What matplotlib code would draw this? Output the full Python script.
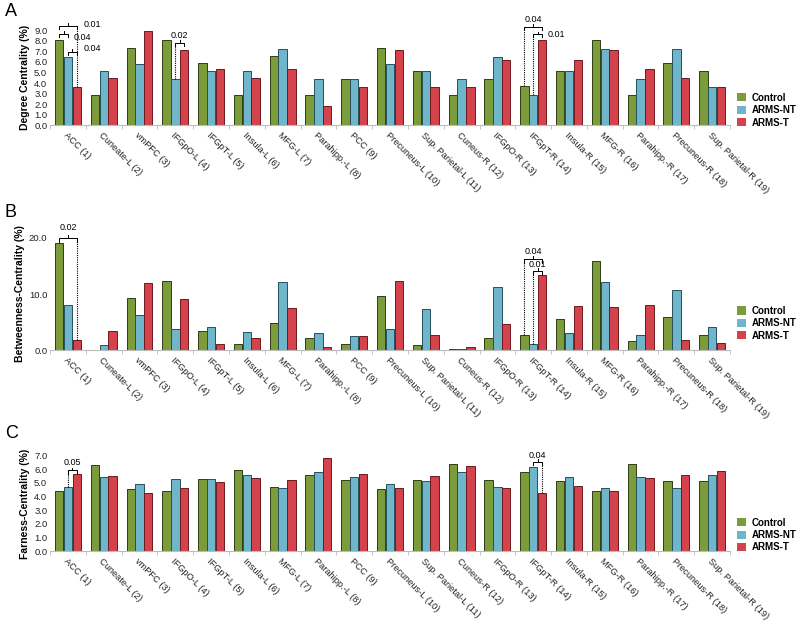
import numpy as np
from matplotlib import pyplot as plt
from matplotlib.ticker import FixedLocator

plt.rcParams["font.family"] = ["Liberation Sans", "DejaVu Sans"]

# 脑区名称
regions = ["ACC (1)", "Cuneate-L (2)", "vmPFC (3)", "IFGpO-L (4)", "IFGpT-L (5)",
           "Insula-L (6)", "MFG-L (7)", "Parahipp.-L (8)", "PCC (9)", "Precuneus-L (10)",
           "Sup. Parietal-L (11)", "Cuneus-R (12)", "IFGpO-R (13)", "IFGpT-R (14)",
           "Insula-R (15)", "MFG-R (16)", "Parahipp.-R (17)", "Precuneus-R (18)",
           "Sup. Parietal-R (19)"]
groups = ["Control", "ARMS-NT", "ARMS-T"]

# A: degree centrality
degree_control = [8.1, 2.9, 7.3, 8.1, 5.9, 2.9, 6.6, 2.9, 4.4, 7.3, 5.1, 2.9, 4.4, 3.7, 5.1, 8.1, 2.9, 5.9, 5.1]
degree_nt = [6.5, 5.1, 5.8, 4.4, 5.1, 5.1, 7.2, 4.4, 4.4, 5.8, 5.1, 4.4, 6.5, 2.9, 5.1, 7.2, 4.4, 7.2, 3.6]
degree_t = [3.6, 4.5, 8.9, 7.1, 5.3, 4.5, 5.3, 1.8, 3.6, 7.1, 3.6, 3.6, 6.2, 8.1, 6.2, 7.1, 5.3, 4.5, 3.6]

# B: betweenness centrality
betw_control = [19.0, 0.1, 9.3, 12.3, 3.4, 1.1, 4.9, 2.2, 1.2, 9.6, 0.9, 0.2, 2.2, 2.7, 5.6, 15.9, 1.6, 5.9, 2.7]
betw_nt = [8.0, 0.9, 6.2, 3.8, 4.1, 3.2, 12.1, 3.1, 2.6, 3.7, 7.3, 0.3, 11.2, 1.2, 3.0, 12.2, 2.8, 10.8, 4.2]
betw_t = [1.9, 3.4, 12.0, 9.2, 1.2, 2.1, 7.6, 0.5, 2.5, 12.4, 2.7, 0.6, 4.6, 13.4, 7.8, 7.7, 8.1, 1.9, 1.3]

# C: farness centrality
far_control = [4.4, 6.3, 4.55, 4.4, 5.27, 5.95, 4.73, 5.6, 5.24, 4.56, 5.24, 6.34, 5.24, 5.78, 5.1, 4.39, 6.34, 5.1, 5.1]
far_nt = [4.7, 5.46, 4.9, 5.27, 5.27, 5.6, 4.59, 5.78, 5.44, 4.9, 5.1, 5.78, 4.73, 6.17, 5.44, 4.59, 5.44, 4.59, 5.6]
far_t = [5.67, 5.51, 4.27, 4.6, 5.07, 5.37, 5.22, 6.83, 5.68, 4.61, 5.51, 6.22, 4.61, 4.29, 4.76, 4.44, 5.37, 5.54, 5.88]

colors = ["#7c9c3b", "#6fb6cb", "#d4434b"]
edges = ["#2f3d14", "#25505c", "#6e1a1e"]
width = 0.235
offsets = [-0.245, 0.0, 0.245]


def draw_panel(ax, series, ymax, yticks, ylabel, legend_y):
    """绘制一个分组柱形图"""
    x = np.arange(len(regions))
    for k in range(3):
        ax.bar(x + offsets[k], series[k], width=width, color=colors[k],
               edgecolor=edges[k], linewidth=0.7, label=groups[k])
    ax.set_xlim(-0.5, len(regions) - 0.5)
    ax.set_ylim(0, ymax)
    ax.set_yticks(yticks)
    ax.set_yticklabels(["%.1f" % v for v in yticks], fontsize=6.8, color="#222222")
    ax.set_xticks(x)
    ax.set_xticklabels(regions, rotation=-45, ha="left", va="top",
                       rotation_mode="anchor", fontsize=6.7, color="#222222")
    ax.tick_params(axis="x", length=0, pad=4)
    ax.tick_params(axis="y", length=0, pad=2)
    ax.xaxis.set_minor_locator(FixedLocator(np.arange(-0.5, len(regions), 1.0)))
    ax.tick_params(axis="x", which="minor", length=3, color="#bbbbbb", width=0.6)
    for s in ["top", "right", "left"]:
        ax.spines[s].set_visible(False)
    ax.spines["bottom"].set_color("#bbbbbb")
    ax.spines["bottom"].set_linewidth(0.8)
    ax.set_ylabel(ylabel, fontsize=7.5, fontweight="bold", labelpad=3)
    leg = ax.legend(loc="center left", bbox_to_anchor=(1.0, legend_y), frameon=False,
                    prop={"size": 7, "weight": "bold"}, handlelength=0.9,
                    handleheight=0.9, handletextpad=0.6, labelspacing=0.25,
                    borderaxespad=0.3)
    for h in leg.legend_handles:
        h.set_linewidth(0)


def bracket(ax, x1, x2, y, tick, text=None, tx=None, ty=None, ha="center"):
    """显著性括号"""
    kw = dict(color="black", lw=0.7, clip_on=False)
    ax.plot([x1, x1, x2, x2], [y - tick, y, y, y - tick], **kw)
    xm = (x1 + x2) / 2
    ax.plot([xm, xm], [y, y + tick * 0.8], **kw)
    if text:
        ax.text(tx, ty, text, fontsize=6.5, ha=ha, va="center", clip_on=False)


def dotted(ax, x, y0, y1):
    ax.plot([x, x], [y0, y1], color="black", lw=0.8, ls=(0, (1, 1)), clip_on=False)


fig = plt.figure(figsize=(7.97, 6.23), dpi=100)

axA = fig.add_axes([0.0628, 0.7989, 0.8532, 0.1525])
axB = fig.add_axes([0.0628, 0.4377, 0.8532, 0.1807])
axC = fig.add_axes([0.0628, 0.1150, 0.8532, 0.1540])

draw_panel(axA, [degree_control, degree_nt, degree_t], 9.0, np.arange(0, 9.5, 1.0),
           "Degree Centrality (%)", 0.16)
draw_panel(axB, [betw_control, betw_nt, betw_t], 20.0, [0, 10, 20],
           "Betweenness-Centrality (%)", 0.24)
draw_panel(axC, [far_control, far_nt, far_t], 7.0, np.arange(0, 7.5, 1.0),
           "Farness-Centrality (%)", 0.17)

g, b, r = offsets
# A 的显著性标注
dotted(axA, r, degree_t[0], 9.4)
bracket(axA, g, r, 9.42, 0.3, "0.01", 0.45, 9.5, ha="left")
bracket(axA, g, b, 8.65, 0.3, "0.04", 0.17, 8.35, ha="left")
bracket(axA, b, r, 6.95, 0.3, "0.04", 0.45, 7.3, ha="left")
dotted(axA, 3 + b, degree_nt[3], 7.83)
bracket(axA, 3 + b, 3 + r, 7.83, 0.3, "0.02", 3.12, 8.5)
dotted(axA, 13 + g, degree_control[13], 9.35)
bracket(axA, 13 + g, 13 + r, 9.35, 0.3, "0.04", 13.0, 10.05)
dotted(axA, 13 + b, degree_nt[13], 8.63)
bracket(axA, 13 + b, 13 + r, 8.63, 0.3, "0.01", 13.4, 8.6, ha="left")

# B 的显著性标注
dotted(axB, r, betw_t[0], 20.0)
bracket(axB, g, r, 20.0, 0.7, "0.02", 0.0, 21.8)
dotted(axB, 13 + g, betw_control[13], 16.2)
bracket(axB, 13 + g, 13 + r, 16.2, 0.7, "0.04", 13.0, 17.5)
dotted(axB, 13 + b, betw_nt[13], 14.1)
bracket(axB, 13 + b, 13 + r, 14.1, 0.7, "0.01", 13.12, 15.3)

# C 的显著性标注
dotted(axC, b, far_nt[0], 5.9)
bracket(axC, b, r, 5.9, 0.25, "0.05", 0.12, 6.45)
dotted(axC, 13 + r, far_t[13], 6.54)
bracket(axC, 13 + b, 13 + r, 6.54, 0.25, "0.04", 13.12, 6.98)

# 面板字母
fig.text(0.006, 0.995, "A", fontsize=13, va="top")
fig.text(0.006, 0.672, "B", fontsize=13, va="top")
fig.text(0.006, 0.318, "C", fontsize=13, va="top")

plt.savefig("out.png", dpi=100)
